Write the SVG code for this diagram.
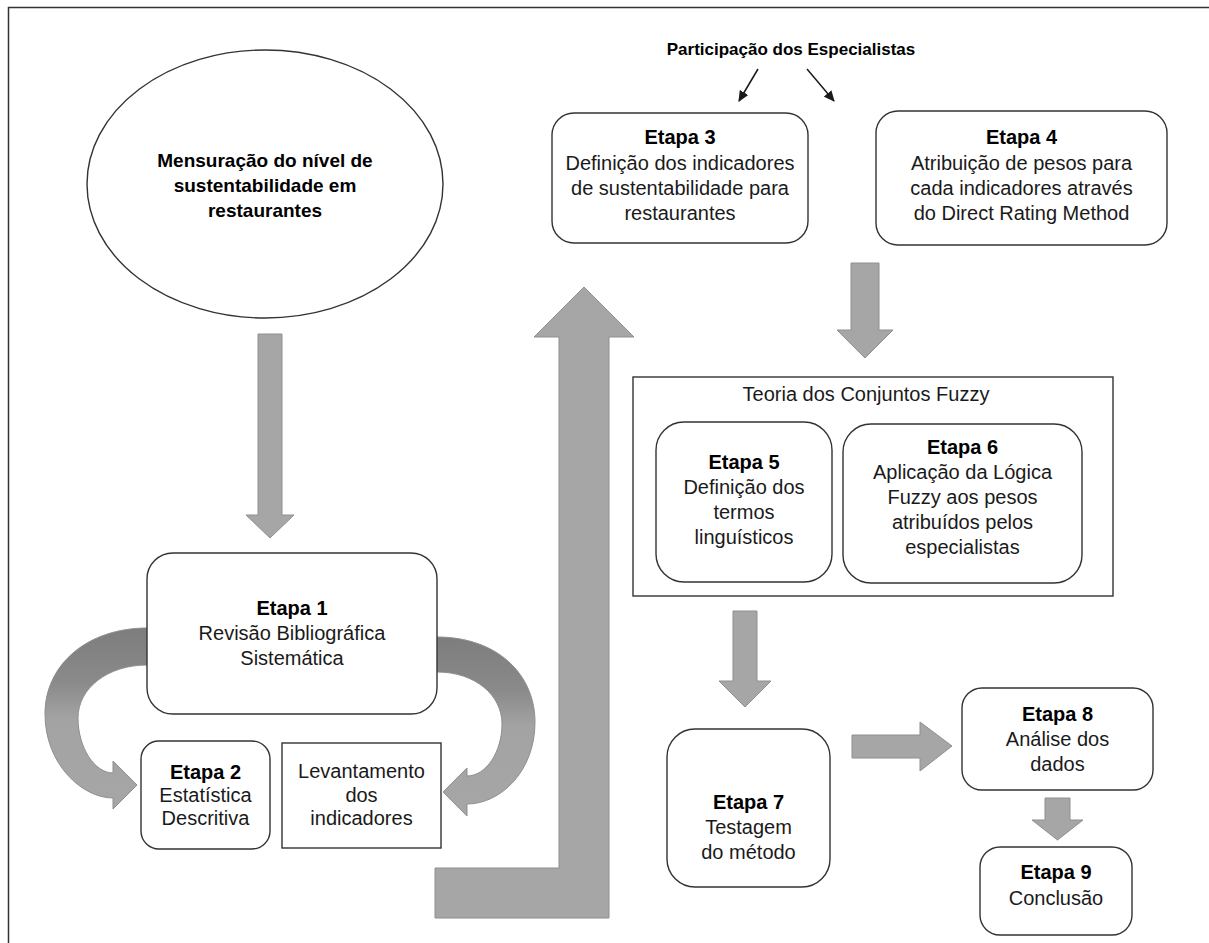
<svg xmlns="http://www.w3.org/2000/svg" width="1209" height="943" viewBox="0 0 1209 943">
<style>
  .t{font-family:"Liberation Sans",Arial,sans-serif;font-size:20px;fill:#1a1a1a;text-anchor:middle}
  .b{font-weight:bold;fill:#000}
  .box{fill:#fff;stroke:#333;stroke-width:1.4}
  .gar{fill:#a6a6a6;stroke:#8f8f8f;stroke-width:1}
  .thin{stroke:#1a1a1a;stroke-width:1.5;fill:none}
</style>
<defs>
  <linearGradient id="rib" x1="0" y1="0" x2="0" y2="1">
    <stop offset="0" stop-color="#7d7d7d"/>
    <stop offset="0.3" stop-color="#8a8a8a"/>
    <stop offset="0.5" stop-color="#a3a3a3"/>
    <stop offset="1" stop-color="#a6a6a6"/>
  </linearGradient>
  <marker id="ah" viewBox="0 0 10 10" refX="9" refY="5" markerWidth="11" markerHeight="11" orient="auto" markerUnits="userSpaceOnUse">
    <path d="M0,0.5 L10,5 L0,9.5 z" fill="#1a1a1a"/>
  </marker>
</defs>
<rect width="1209" height="943" fill="#fff"/>
<path d="M8.5 943 V7.5 H1209" fill="none" stroke="#333" stroke-width="1.5"/>

<g id="connectors">
  <path class="gar" d="M258 334 H282 V515 H294 L270 538 L246 515 H258 Z"/>
  <path d="M147 628 C88 628 45 664 45 714 C45 764 82 798 113 798 L113 809 L137 785 L113 761 L113 773 C95 773 78 748 78 718 C78 688 108 665 147 665 Z" fill="url(#rib)" stroke="#8f8f8f" stroke-width="1"/>
  <path d="M437 637 C498 637 535 675 535 722 C535 772 500 804 467 804 L467 816 L443 792 L467 768 L467 776 C486 776 502 752 502 724 C502 695 475 672 437 672 Z" fill="url(#rib)" stroke="#8f8f8f" stroke-width="1"/>
  <path class="gar" d="M435 868 H559 V337 H534 L584 287 L634 337 H609 V918 H435 Z"/>
  <line class="thin" x1="758" y1="69" x2="739" y2="101" marker-end="url(#ah)"/>
  <line class="thin" x1="807" y1="69" x2="834" y2="101" marker-end="url(#ah)"/>
  <path class="gar" d="M851 263 H879 V330 H893 L865 358 L837 330 H851 Z"/>
  <path class="gar" d="M733 611 H757 V681 H771 L745 707 L719 681 H733 Z"/>
  <path class="gar" d="M852 735 H920 V722 L952 746 L920 771 V758 H852 Z"/>
  <path class="gar" d="M1045 798 H1070 V820 H1083 L1057.5 840 L1032 820 H1045 Z"/>
</g>

<g id="objetivo">
  <ellipse cx="265" cy="184" rx="178" ry="134" fill="#fff" stroke="#333" stroke-width="1.4"/>
  <text class="t b" x="265" y="167" style="font-size:19px">Mensuração do nível de</text>
  <text class="t b" x="265" y="192" style="font-size:19px">sustentabilidade em</text>
  <text class="t b" x="265" y="217" style="font-size:19px">restaurantes</text>
</g>

<g id="etapa1">
  <rect class="box" x="147" y="553" width="290" height="161" rx="26"/>
  <text class="t b" x="292" y="615">Etapa 1</text>
  <text class="t" x="292" y="640">Revisão Bibliográfica</text>
  <text class="t" x="292" y="665">Sistemática</text>
</g>

<g id="etapa2">
  <rect class="box" x="141" y="741" width="129" height="108" rx="18"/>
  <text class="t b" x="205.5" y="779">Etapa 2</text>
  <text class="t" x="205.5" y="802">Estatística</text>
  <text class="t" x="205.5" y="825">Descritiva</text>
</g>

<g id="levantamento">
  <rect class="box" x="282" y="743" width="159" height="105"/>
  <text class="t" x="361.5" y="778">Levantamento</text>
  <text class="t" x="361.5" y="802">dos</text>
  <text class="t" x="361.5" y="825">indicadores</text>
</g>

<g id="especialistas">
  <text class="t b" x="791" y="55" style="font-size:17px">Participação dos Especialistas</text>
</g>

<g id="etapa3">
  <rect class="box" x="552" y="113" width="256" height="130" rx="22"/>
  <text class="t b" x="680" y="144">Etapa 3</text>
  <text class="t" x="680" y="170">Definição dos indicadores</text>
  <text class="t" x="680" y="195">de sustentabilidade para</text>
  <text class="t" x="680" y="220">restaurantes</text>
</g>

<g id="etapa4">
  <rect class="box" x="876" y="111" width="291" height="134" rx="22"/>
  <text class="t b" x="1021.5" y="144">Etapa 4</text>
  <text class="t" x="1021.5" y="170">Atribuição de pesos para</text>
  <text class="t" x="1021.5" y="195">cada indicadores através</text>
  <text class="t" x="1021.5" y="220">do Direct Rating Method</text>
</g>

<g id="fuzzy">
  <rect x="633" y="377" width="480" height="219" fill="#fff" stroke="#333" stroke-width="1.4"/>
  <text class="t" x="866" y="401">Teoria dos Conjuntos Fuzzy</text>
</g>

<g id="etapa5">
  <rect class="box" x="656" y="422" width="176" height="160" rx="28"/>
  <text class="t b" x="744" y="469">Etapa 5</text>
  <text class="t" x="744" y="494">Definição dos</text>
  <text class="t" x="744" y="519">termos</text>
  <text class="t" x="744" y="544">linguísticos</text>
</g>

<g id="etapa6">
  <rect class="box" x="843" y="424" width="239" height="159" rx="28"/>
  <text class="t b" x="962.5" y="454">Etapa 6</text>
  <text class="t" x="962.5" y="479">Aplicação da Lógica</text>
  <text class="t" x="962.5" y="504">Fuzzy aos pesos</text>
  <text class="t" x="962.5" y="529">atribuídos pelos</text>
  <text class="t" x="962.5" y="554">especialistas</text>
</g>

<g id="etapa7">
  <rect class="box" x="667" y="729" width="163" height="158" rx="28"/>
  <text class="t b" x="748.5" y="809">Etapa 7</text>
  <text class="t" x="748.5" y="834">Testagem</text>
  <text class="t" x="748.5" y="859">do método</text>
</g>

<g id="etapa8">
  <rect class="box" x="962" y="688" width="191" height="102" rx="20"/>
  <text class="t b" x="1057.5" y="721">Etapa 8</text>
  <text class="t" x="1057.5" y="746">Análise dos</text>
  <text class="t" x="1057.5" y="771">dados</text>
</g>

<g id="etapa9">
  <rect class="box" x="980" y="847" width="152" height="88" rx="20"/>
  <text class="t b" x="1056" y="879">Etapa 9</text>
  <text class="t" x="1056" y="905">Conclusão</text>
</g>
</svg>
